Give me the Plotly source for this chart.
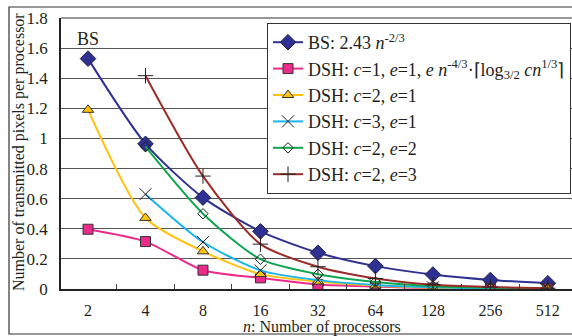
import plotly.graph_objects as go

n_labels = ["2", "4", "8", "16", "32", "64", "128", "256", "512"]

bs = [1.53, 0.964, 0.607, 0.383, 0.241, 0.152, 0.096, 0.060, 0.038]
dsh_c1_e1 = [0.397, 0.315, 0.125, 0.074, 0.030, 0.016, 0.006, 0.003, 0.0015]
dsh_c2_e1 = [1.19, 0.472, 0.25, 0.099, 0.049, 0.023, 0.009, 0.004, 0.0017]
dsh_c3_e1 = [None, 0.63, 0.312, 0.124, 0.059, 0.027, 0.011, 0.005, 0.002]
dsh_c2_e2 = [None, 0.945, 0.50, 0.198, 0.098, 0.047, 0.019, 0.009, 0.0034]
dsh_c2_e3 = [None, 1.417, 0.75, 0.298, 0.148, 0.070, 0.028, 0.013, 0.005]

names = [
    "BS: 2.43 <i>n</i><sup>-2/3</sup>",
    "DSH: <i>c</i>=1, <i>e</i>=1, <i>e n</i><sup>-4/3</sup>·⌈log<sub>3/2</sub> <i>cn</i><sup>1/3</sup>⌉",
    "DSH: <i>c</i>=2, <i>e</i>=1",
    "DSH: <i>c</i>=3, <i>e</i>=1",
    "DSH: <i>c</i>=2, <i>e</i>=2",
    "DSH: <i>c</i>=2, <i>e</i>=3",
]
series = [bs, dsh_c1_e1, dsh_c2_e1, dsh_c3_e1, dsh_c2_e2, dsh_c2_e3]
line_colors = ["#2E3192", "#EC2A8C", "#FFC20E", "#1CB4EC", "#10A650", "#9B2C2A"]
markers = [
    dict(symbol="diamond", size=12, color="#2E3192", line=dict(color="#222244", width=1)),
    dict(symbol="square", size=10, color="#EC2A8C", line=dict(color="#333333", width=1)),
    dict(symbol="triangle-up", size=10, color="#FFC20E", line=dict(color="#333333", width=1)),
    dict(symbol="x-thin", size=12, color="#222222", line=dict(color="#222222", width=1)),
    dict(symbol="diamond-open", size=8, color="#222222", line=dict(color="#222222", width=1)),
    dict(symbol="cross-thin", size=11, color="#222222", line=dict(color="#222222", width=1)),
]

fig = go.Figure()
for name, ys, lc, mk in zip(names, series, line_colors, markers):
    fig.add_trace(go.Scatter(
        x=n_labels, y=ys, name=name, mode="lines+markers",
        line=dict(color=lc, width=2, shape="spline", smoothing=0.7),
        marker=mk, connectgaps=False,
    ))

font_family = "Liberation Serif, Times New Roman, serif"
txt = "#231F20"

fig.update_layout(
    width=572, height=336,
    margin=dict(l=61, r=0, t=18, b=47, autoexpand=False),
    paper_bgcolor="white", plot_bgcolor="white",
    font=dict(family=font_family, size=16, color=txt),
    showlegend=True,
    legend=dict(
        x=(267 - 61) / 511, y=(289 - 23) / 271, xanchor="left", yanchor="top",
        bgcolor="white", bordercolor="#333333", borderwidth=1,
        font=dict(family=font_family, size=18, color=txt),
        tracegroupgap=0,
    ),
    xaxis=dict(
        type="category", range=[-0.47, 8.42],
        showgrid=False, zeroline=False, automargin=False,
        showline=True, linecolor="#222222", linewidth=1.5, mirror=False,
        ticks="inside", tickson="boundaries", ticklen=5, tickcolor="#444444",
        tickfont=dict(family=font_family, size=16), ticklabelstandoff=6,
    ),
    yaxis=dict(
        range=[0, 1.8], dtick=0.2, showgrid=True, gridcolor="#555555", gridwidth=1,
        zeroline=False, showline=True, linecolor="#222222", linewidth=1.5, automargin=False,
        ticks="", tickfont=dict(family=font_family, size=17), ticklabelstandoff=8,
    ),
    shapes=[
        dict(type="rect", xref="paper", yref="paper",
             x0=(9 - 61) / 511, x1=1.02, y0=(289 - 334) / 271, y1=(289 - 7) / 271,
             line=dict(color="#333333", width=1.2), fillcolor="rgba(0,0,0,0)", layer="below"),
        dict(type="line", xref="paper", yref="paper", x0=0, x1=1, y0=1, y1=1,
             line=dict(color="#333333", width=1.2)),
    ],
    annotations=[
        dict(text="<i>n</i>: Number of processors", xref="paper", yref="paper",
             x=(322 - 61) / 511, y=(289 - 327) / 271, xanchor="center", yanchor="middle",
             showarrow=False, font=dict(family=font_family, size=16)),
        dict(text="Number of transmitted pixels per processor", xref="paper", yref="paper",
             x=(19 - 61) / 511, y=(289 - 152) / 271, xanchor="center", yanchor="middle",
             textangle=-90, showarrow=False, font=dict(family=font_family, size=16)),
        dict(text="BS", xref="x", yref="y", x=0, y=(289 - 39) / 150.6,
             xanchor="center", yanchor="middle", showarrow=False,
             font=dict(family=font_family, size=18)),
    ],
)

fig.write_html("out.html")
